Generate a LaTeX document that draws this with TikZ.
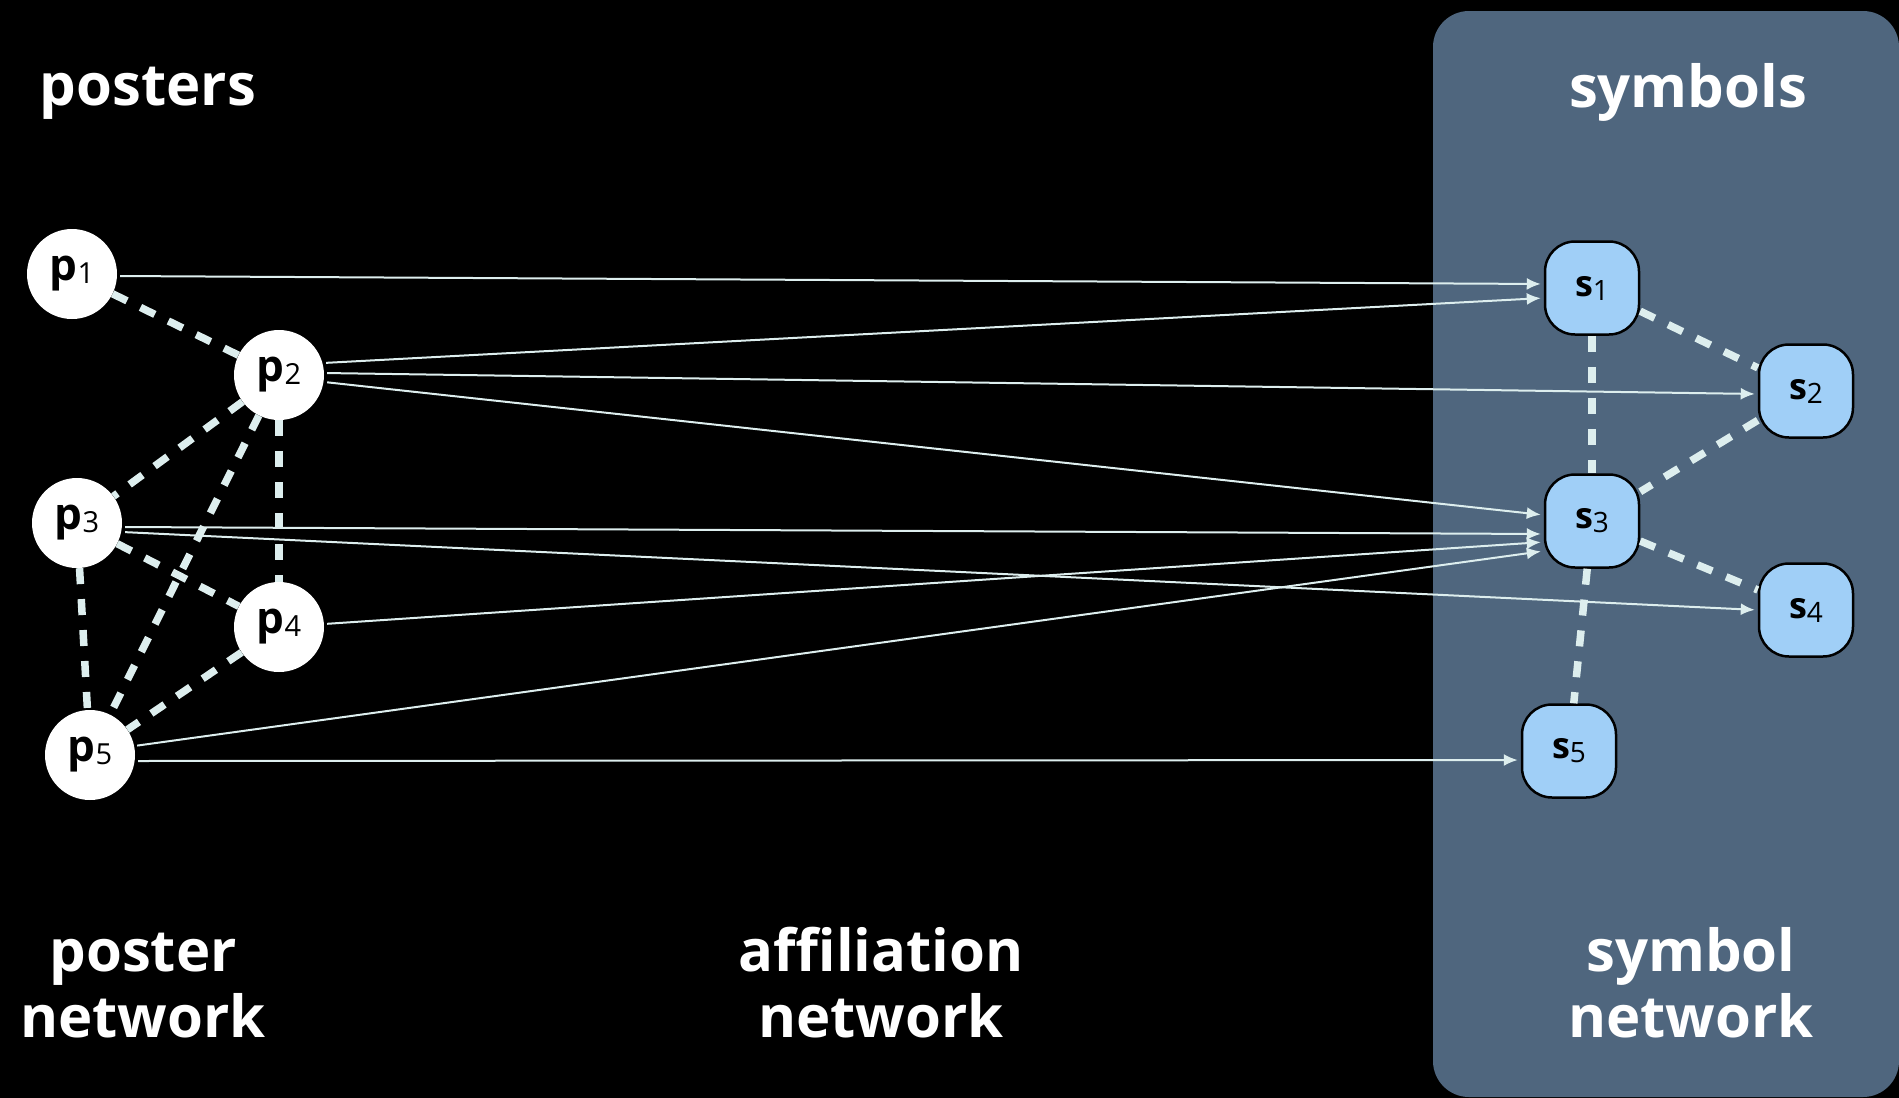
\documentclass[tikz,border=0pt]{standalone}
\usepackage{fontspec}
\setmainfont{Open Sans}
\usetikzlibrary{calc,arrows.meta}
\definecolor{panelc}{HTML}{4F667E}
\definecolor{sfill}{HTML}{A0CFF7}
\definecolor{edgec}{HTML}{DDEEEE}
\newcommand\plab[1]{{\fontsize{44}{44}\selectfont\bfseries p}{\fontsize{29}{29}\selectfont\raisebox{-3pt}{#1}}}
\newcommand\slab[1]{{\fontsize{36}{36}\selectfont\bfseries s}{\fontsize{28}{28}\selectfont\raisebox{-4pt}{#1}}}
\begin{document}
\begin{tikzpicture}[x=1pt,y=-1pt,
  pnode/.style={circle,fill=white,minimum size=90pt,inner sep=0pt},
  snode/.style={rectangle,rounded corners=30pt,fill=sfill,draw=black,line width=2.5pt,minimum width=94pt,minimum height=93pt,inner sep=0pt},
  aff/.style={draw=edgec,line width=2pt,-{Latex[length=14pt,width=12pt]},shorten <=3pt,shorten >=3pt},
  soc/.style={draw=edgec,line width=7.5pt,dash pattern=on 16pt off 15pt},
  lbl/.style={text=white,font=\fontsize{58}{66}\selectfont\bfseries,align=center,inner sep=0pt}]
\useasboundingbox (0,0) rectangle (1899,1098);
\fill[black] (0,0) rectangle (1899,1098);
\fill[panelc,rounded corners=36pt] (1433,11) rectangle (1899,1097);

% labels
\node[lbl,anchor=base] (posters) at (148,105) {posters};
\node[lbl,anchor=base] (symbols) at (1688,107) {symbols};
\node[lbl,anchor=base] (postnet) at (143,1037) {poster\\network};
\node[lbl,anchor=base] (affnet) at (881,1037) {affiliation\\network};
\node[lbl,anchor=base] (symnet) at (1691,1037) {symbol\\network};

% poster nodes
\node[pnode] (p1) at (72,274) {\plab{1}};
\node[pnode] (p2) at (279,375) {\plab{2}};
\node[pnode] (p3) at (77,523) {\plab{3}};
\node[pnode] (p4) at (279,627) {\plab{4}};
\node[pnode] (p5) at (90,755) {\plab{5}};

% symbol nodes
\node[snode] (s1) at (1592,288) {\slab{1}};
\node[snode] (s2) at (1806,391) {\slab{2}};
\node[snode] (s3) at (1592,521) {\slab{3}};
\node[snode] (s4) at (1806,610) {\slab{4}};
\node[snode] (s5) at (1569,751) {\slab{5}};

% affiliation arrows
\draw[aff] ($(p1.east)+(0,2)$) -- ($(s1.west)+(0,-4)$);
\draw[aff] ($(p2.east)+(-1,-12)$) -- ($(s1.west)+(0,10)$);
\draw[aff] ($(p2.east)+(0,-2)$) -- ($(s2.west)+(0,3)$);
\draw[aff] ($(p2.east)+(0,7)$) -- ($(s3.west)+(0,-6)$);
\draw[aff] ($(p3.east)+(0,4)$) -- ($(s3.west)+(0,13)$);
\draw[aff] ($(p3.east)+(0,9)$) -- (s4.west);
\draw[aff] ($(p4.east)+(0,-3)$) -- ($(s3.west)+(0,21)$);
\draw[aff] ($(p5.east)+(-1,-9)$) -- ($(s3.west)+(0,30)$);
\draw[aff] ($(p5.east)+(0,6)$) -- ($(s5.west)+(0,9)$);

% poster network
\draw[soc] (p1) -- (p2);
\draw[soc] (p2) -- (p3);
\draw[soc] (p2) -- (p4);
\draw[soc] (p2) -- (p5);
\draw[soc] (p3) -- (p4);
\draw[soc] (p3) -- (p5);
\draw[soc] (p4) -- (p5);

% symbol network
\draw[soc] (s1) -- (s2);
\draw[soc] (s1) -- (s3);
\draw[soc] (s2) -- (s3);
\draw[soc] (s3) -- (s4);
\draw[soc] (s3) -- (s5);
\end{tikzpicture}
\end{document}
